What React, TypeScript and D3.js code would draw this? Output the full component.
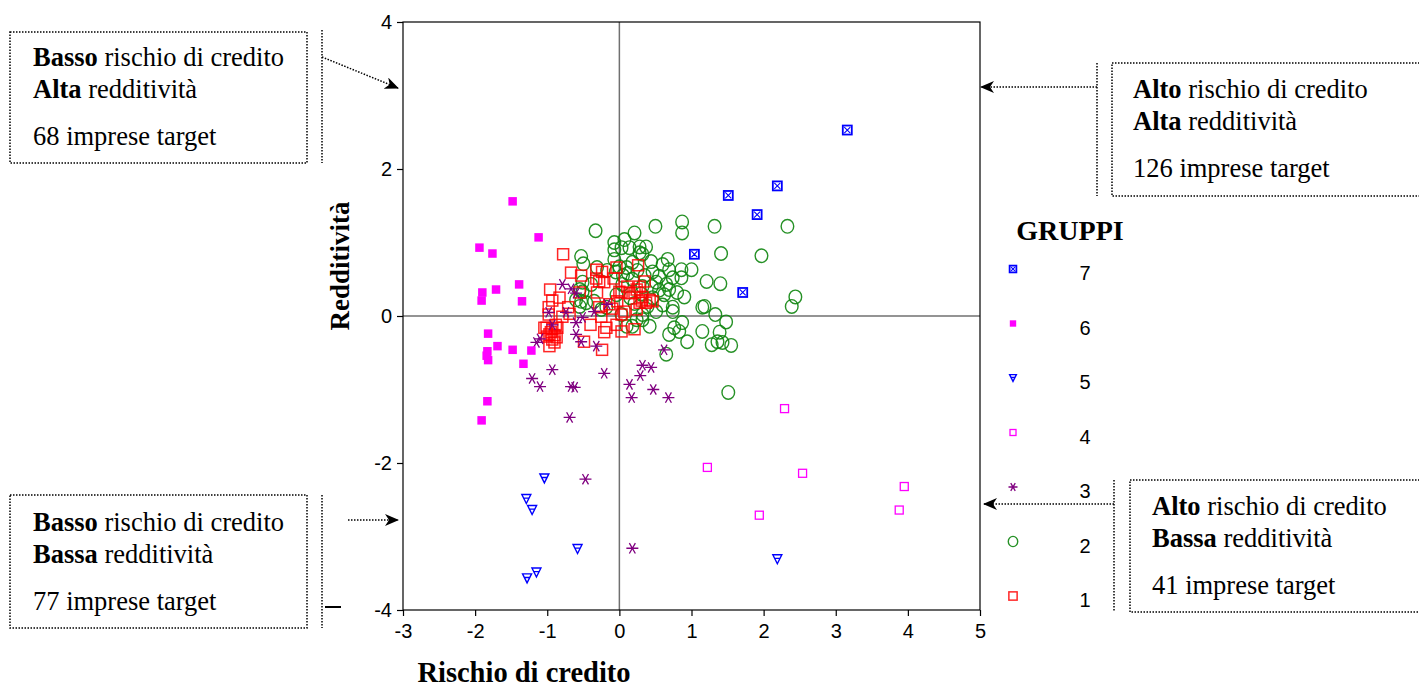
import { useEffect, useRef } from 'react';
import * as d3 from 'd3';

type Pt = [number, number];

// gruppo 1 - quadrati rossi
const gruppo1: Pt[] = [
  [-0.78, 0.84], [-0.67, 0.59], [-0.53, 0.55], [-0.32, 0.63], [-0.04, 0.66], [0.26, 0.69],
  [-0.96, 0.36], [-0.83, 0.25], [-0.93, 0.21], [-0.55, 0.32], [-0.32, 0.51], [-0.21, 0.46],
  [-0.31, 0.32], [-0.08, 0.51], [-0.71, 0.12], [-0.69, 0.03], [-0.98, 0.12], [-0.98, 0.02],
  [0.0, 0.33], [-0.03, 0.2], [0.14, 0.31], [0.21, 0.32], [0.28, 0.4], [0.35, 0.47],
  [0.31, 0.21], [0.37, 0.18], [0.42, 0.22], [0.46, 0.2], [-0.28, 0.12], [-0.14, 0.16],
  [-0.1, 0.1], [-0.25, -0.01], [-0.4, -0.12], [-0.79, -0.01], [-1.01, -0.16], [-0.93, -0.18],
  [-0.97, -0.25], [-0.87, -0.29], [-0.93, -0.32], [-1.04, -0.16], [-0.86, -0.16], [-0.18, -0.16],
  [-0.21, -0.22], [-0.04, -0.12], [0.03, -0.21], [0.21, -0.18], [-0.49, -0.35], [-0.24, -0.46],
  [-0.97, -0.41], [-0.9, -0.36], [0.07, 0.06], [0.03, 0.02], [-0.24, 0.6], [0.11, 0.4],
  [0.24, 0.36], [0.28, 0.18], [0.24, 0.09], [0.32, 0.26], [0.03, 0.32], [-0.28, 0.47],
  [-0.95, -0.22], [-0.88, -0.12], [-0.9, -0.26], [-1.0, -0.28],
];

// gruppo 2 - cerchi verdi
const gruppo2: Pt[] = [
  [-0.33, 1.16], [0.21, 1.13], [0.5, 1.22], [0.87, 1.28], [0.87, 1.13], [1.32, 1.22],
  [2.33, 1.22], [0.07, 1.04], [-0.07, 1.0], [-0.07, 0.9], [0.03, 0.93], [0.14, 0.93],
  [0.28, 0.94], [0.37, 0.94], [0.28, 0.86], [0.32, 0.84], [1.41, 0.85], [1.97, 0.82],
  [-0.53, 0.81], [-0.5, 0.71], [-0.17, 0.62], [-0.07, 0.77], [0.0, 0.67], [0.1, 0.66],
  [-0.31, 0.66], [0.18, 0.73], [0.44, 0.74], [0.6, 0.7], [0.67, 0.77], [0.69, 0.63],
  [0.86, 0.63], [1.0, 0.63], [0.46, 0.6], [0.55, 0.54], [0.74, 0.52], [0.86, 0.52],
  [1.21, 0.47], [1.4, 0.44], [-0.51, 0.46], [-0.51, 0.33], [-0.53, 0.2], [-0.55, 0.13],
  [-0.39, 0.43], [-0.35, 0.2], [-0.25, 0.09], [-0.18, 0.12], [0.03, 0.02], [0.1, -0.14],
  [0.24, -0.05], [0.32, 0.02], [0.21, 0.17], [-0.04, 0.29], [0.04, 0.43], [0.18, 0.5],
  [0.32, 0.4], [0.51, 0.46], [0.65, 0.43], [0.69, 0.36], [0.8, 0.32], [0.9, 0.26],
  [0.62, 0.29], [0.46, 0.25], [0.39, 0.13], [0.51, 0.06], [0.74, 0.12], [0.74, 0.06],
  [1.15, 0.12], [1.33, 0.02], [1.48, -0.08], [2.39, 0.13], [2.44, 0.26], [0.87, -0.09],
  [0.76, -0.16], [0.83, -0.21], [0.69, -0.25], [0.94, -0.35], [1.28, -0.39], [1.36, -0.35],
  [1.43, -0.36], [1.55, -0.4], [1.39, -0.22], [0.65, -0.52], [0.32, -0.05], [0.18, -0.14],
  [0.42, -0.14], [1.15, -0.21], [1.18, 0.13], [1.51, -1.04], [-0.46, 0.18], [-0.6, 0.22],
  [-0.55, 0.36], [0.05, 0.55], [0.12, 0.58], [0.25, 0.62], [0.35, 0.55], [0.15, 0.25],
  [0.3, 0.3], [-0.05, 0.6], [0.55, 0.35], [0.45, 0.4], [0.6, 0.15],
];

// gruppo 3 - asterischi viola
const gruppo3: Pt[] = [
  [-0.79, 0.43], [-0.67, 0.37], [-0.6, 0.31], [-0.98, 0.05], [-0.93, -0.12], [-0.74, 0.05],
  [-0.51, -0.02], [-0.6, -0.09], [-0.35, 0.06], [-1.1, -0.31], [-1.15, -0.36], [-0.6, -0.25],
  [-0.53, -0.35], [-0.32, -0.41], [-0.93, -0.73], [-1.21, -0.85], [-1.1, -0.96], [-0.67, -0.96],
  [-0.62, -0.97], [-0.21, -0.78], [-0.69, -1.38], [0.32, -0.67], [0.44, -0.7], [0.29, -0.81],
  [0.14, -0.93], [0.47, -1.0], [0.17, -1.11], [0.68, -1.11], [0.62, -0.46], [-0.47, -2.22],
  [0.18, -3.16], [-0.17, 0.16],
];

// gruppo 4 - quadrati vuoti magenta
const gruppo4: Pt[] = [
  [2.29, -1.26], [1.22, -2.06], [2.54, -2.14], [1.94, -2.71], [3.95, -2.32], [3.88, -2.64],
];

// gruppo 5 - triangoli blu
const gruppo5: Pt[] = [
  [-1.04, -2.21], [-1.29, -2.49], [-1.21, -2.64], [-0.58, -3.17], [-1.28, -3.57], [-1.15, -3.49],
  [2.19, -3.31],
];

// gruppo 6 - quadrati pieni magenta
const gruppo6: Pt[] = [
  [-1.48, 1.56], [-1.12, 1.07], [-1.94, 0.93], [-1.76, 0.85], [-1.39, 0.43], [-1.71, 0.36],
  [-1.9, 0.32], [-1.91, 0.21], [-1.35, 0.2], [-1.82, -0.24], [-1.69, -0.41], [-1.48, -0.46],
  [-1.22, -0.47], [-1.83, -0.48], [-1.84, -0.54], [-1.82, -0.6], [-1.33, -0.65], [-1.83, -1.16],
  [-1.91, -1.42],
];

// gruppo 7 - quadrati con croce blu
const gruppo7: Pt[] = [
  [3.16, 2.53], [1.51, 1.64], [2.19, 1.77], [1.91, 1.38], [1.04, 0.84], [1.71, 0.32],
];

const xTicks = [-3, -2, -1, 0, 1, 2, 3, 4, 5];
const yTicks = [-4, -2, 0, 2, 4];
const legendLabels = ['7', '6', '5', '4', '3', '2', '1'];

const SERIF = '"Liberation Serif", "Times New Roman", serif';
const SANS = '"Liberation Sans", Arial, sans-serif';
const W = 1419;
const H = 688;

type Kind = 'g1' | 'g2' | 'g3' | 'g4' | 'g5' | 'g6' | 'g7';

const drawMarker = (g: any, kind: Kind, k: number) => {
  if (kind === 'g1') {
    const s = 11 * k;
    g.append('rect').attr('x', -s / 2).attr('y', -s / 2).attr('width', s).attr('height', s)
      .attr('fill', 'none').attr('stroke', '#ff0000').attr('stroke-opacity', 0.85).attr('stroke-width', 1.5);
  } else if (kind === 'g2') {
    g.append('ellipse').attr('rx', 6.3 * k).attr('ry', 6.8 * k)
      .attr('fill', 'none').attr('stroke', '#0e850e').attr('stroke-opacity', 0.9).attr('stroke-width', 1.4);
  } else if (kind === 'g3') {
    const r = 6 * k;
    const a = r * Math.cos(Math.PI / 3);
    const b = r * Math.sin(Math.PI / 3);
    g.append('path')
      .attr('d', `M${-r},0L${r},0M${-a},${-b}L${a},${b}M${-a},${b}L${a},${-b}`)
      .attr('stroke', '#800080').attr('stroke-width', 1.3).attr('fill', 'none');
  } else if (kind === 'g4') {
    const s = 8 * k;
    g.append('rect').attr('x', -s / 2).attr('y', -s / 2).attr('width', s).attr('height', s)
      .attr('fill', 'none').attr('stroke', '#ff00ff').attr('stroke-width', 1.3);
  } else if (kind === 'g5') {
    const s = 4.5 * k;
    g.append('path')
      .attr('d', `M${-s},${-s}L${s},${-s}L0,${s}Z M${-s * 0.55},${-s * 0.2}L${s * 0.55},${-s * 0.2}`)
      .attr('fill', 'none').attr('stroke', '#0000ff').attr('stroke-width', 1.4);
  } else if (kind === 'g6') {
    const s = 8.5 * k;
    g.append('rect').attr('x', -s / 2).attr('y', -s / 2).attr('width', s).attr('height', s)
      .attr('fill', '#ff00ff');
  } else {
    const s = 9 * k;
    g.append('rect').attr('x', -s / 2).attr('y', -s / 2).attr('width', s).attr('height', s)
      .attr('fill', '#ffffff').attr('stroke', '#0000ff').attr('stroke-width', 1.8);
    const t = s / 2 - 1.5;
    g.append('path').attr('d', `M${-t},${-t}L${t},${t}M${-t},${t}L${t},${-t}`)
      .attr('stroke', '#0000ff').attr('stroke-width', 1.1);
  }
};

const annotations = [
  { x: 10, y: 32, w: 297, h: 131, tx: 33, base: 66, l1: ['Basso', ' rischio di credito'], l2: ['Alta', ' redditività'], l3: '68 imprese target' },
  { x: 1112, y: 63, w: 320, h: 133, tx: 1133, base: 98, l1: ['Alto', ' rischio di credito'], l2: ['Alta', ' redditività'], l3: '126 imprese target' },
  { x: 10, y: 495, w: 297, h: 133, tx: 33, base: 531, l1: ['Basso', ' rischio di credito'], l2: ['Bassa', ' redditività'], l3: '77 imprese target' },
  { x: 1130, y: 480, w: 300, h: 132, tx: 1152, base: 515, l1: ['Alto', ' rischio di credito'], l2: ['Bassa', ' redditività'], l3: '41 imprese target' },
];

const App = () => {
  const svgRef = useRef<SVGSVGElement>(null);

  useEffect(() => {
    const svg = d3.select(svgRef.current);
    svg.selectAll('*').remove();

    const x = d3.scaleLinear().domain([-3, 5]).range([403, 980]);
    const y = d3.scaleLinear().domain([-4, 4]).range([610, 22]);

    const defs = svg.append('defs');
    defs.append('marker')
      .attr('id', 'arrow')
      .attr('viewBox', '0 0 14 12')
      .attr('refX', 13).attr('refY', 6)
      .attr('markerWidth', 14).attr('markerHeight', 12)
      .attr('markerUnits', 'userSpaceOnUse')
      .attr('orient', 'auto')
      .append('path').attr('d', 'M0,0L14,6L0,12L4,6Z').attr('fill', '#000');

    // zero lines
    svg.append('line').attr('x1', x(0)).attr('x2', x(0)).attr('y1', y(4)).attr('y2', y(-4))
      .attr('stroke', '#707070').attr('stroke-width', 1.5);
    svg.append('line').attr('x1', x(-3)).attr('x2', x(5)).attr('y1', y(0)).attr('y2', y(0))
      .attr('stroke', '#707070').attr('stroke-width', 1.5);

    // frame
    svg.append('rect').attr('x', x(-3)).attr('y', y(4)).attr('width', x(5) - x(-3)).attr('height', y(-4) - y(4))
      .attr('fill', 'none').attr('stroke', '#000').attr('stroke-width', 1.2);

    const xAxis = svg.append('g').attr('transform', `translate(0,${y(-4)})`)
      .call(d3.axisBottom(x).tickValues(xTicks).tickSize(6).tickPadding(8).tickFormat((d: any) => String(d)));
    const yAxis = svg.append('g').attr('transform', `translate(${x(-3)},0)`)
      .call(d3.axisLeft(y).tickValues(yTicks).tickSize(6).tickPadding(5).tickFormat((d: any) => String(d)));
    [xAxis, yAxis].forEach(a => {
      a.select('.domain').remove();
      a.selectAll('line').attr('stroke', '#000').attr('stroke-width', 1.2);
      a.selectAll('text').attr('font-family', SANS).attr('font-size', 20).attr('fill', '#000');
    });

    // points
    const groups: [Pt[], Kind][] = [
      [gruppo2, 'g2'], [gruppo1, 'g1'], [gruppo3, 'g3'], [gruppo4, 'g4'],
      [gruppo5, 'g5'], [gruppo6, 'g6'], [gruppo7, 'g7'],
    ];
    groups.forEach(([pts, kind]) => {
      svg.append('g').selectAll('g')
        .data(pts)
        .join('g')
        .attr('transform', d => `translate(${x(d[0])},${y(d[1])})`)
        .each(function () { drawMarker(d3.select(this), kind, 1); });
    });

    // axis titles
    svg.append('text').attr('x', 524).attr('y', 682).attr('text-anchor', 'middle')
      .attr('font-family', SERIF).attr('font-weight', 'bold').attr('font-size', 28.5)
      .text('Rischio di credito');
    svg.append('text').attr('transform', 'translate(349,266) rotate(-90)').attr('text-anchor', 'middle')
      .attr('font-family', SERIF).attr('font-weight', 'bold').attr('font-size', 27)
      .text('Redditività');

    // legend
    svg.append('text').attr('x', 1070).attr('y', 240).attr('text-anchor', 'middle')
      .attr('font-family', SERIF).attr('font-weight', 'bold').attr('font-size', 28)
      .text('GRUPPI');
    const legendKinds: Kind[] = ['g7', 'g6', 'g5', 'g4', 'g3', 'g2', 'g1'];
    const ly = d3.scalePoint().domain(legendLabels).range([273, 600]);
    legendLabels.forEach((lab, i) => {
      const g = svg.append('g').attr('transform', `translate(1013,${(ly(lab) || 0) - 4})`);
      drawMarker(g, legendKinds[i], 0.75);
      svg.append('text').attr('x', 1085).attr('y', (ly(lab) || 0) + 7).attr('text-anchor', 'middle')
        .attr('font-family', SANS).attr('font-size', 20).text(lab);
    });

    // annotation boxes
    annotations.forEach(a => {
      svg.append('rect').attr('x', a.x).attr('y', a.y).attr('width', a.w).attr('height', a.h)
        .attr('fill', 'none').attr('stroke', '#000').attr('stroke-width', 1.5).attr('stroke-dasharray', '1.5,1.5');
      const t = svg.append('text').attr('font-family', SERIF).attr('font-size', 26.5).attr('fill', '#000');
      [a.l1, a.l2].forEach((l, i) => {
        const line = t.append('tspan').attr('x', a.tx).attr('y', a.base + i * 32);
        line.append('tspan').attr('font-weight', 'bold').text(l[0]);
        line.append('tspan').text(l[1]);
      });
      t.append('tspan').attr('x', a.tx).attr('y', a.base + 79).text(a.l3);
    });

    const dotted = (x1: number, y1: number, x2: number, y2: number, arrow: boolean) => {
      const l = svg.append('line').attr('x1', x1).attr('y1', y1).attr('x2', x2).attr('y2', y2)
        .attr('stroke', '#000').attr('stroke-width', 1.5).attr('stroke-dasharray', '1.5,1.5');
      if (arrow) l.attr('marker-end', 'url(#arrow)');
    };
    dotted(322, 30, 322, 163, false);
    dotted(322, 495, 322, 628, false);
    dotted(1097, 63, 1097, 196, false);
    dotted(1114, 480, 1114, 612, false);
    dotted(322, 57, 398, 88, true);
    dotted(1097, 87, 981, 87, true);
    dotted(348, 520, 398, 520, true);
    dotted(1114, 504, 984, 504, true);
    svg.append('line').attr('x1', 325).attr('x2', 341).attr('y1', 607).attr('y2', 607)
      .attr('stroke', '#000').attr('stroke-width', 2);
  }, []);

  return (
    <div style={{ position: 'absolute', left: 0, top: 0 }}>
      <svg ref={svgRef} width={W} height={H} style={{ display: 'block', background: '#fff' }} />
    </div>
  );
};

export default App;
